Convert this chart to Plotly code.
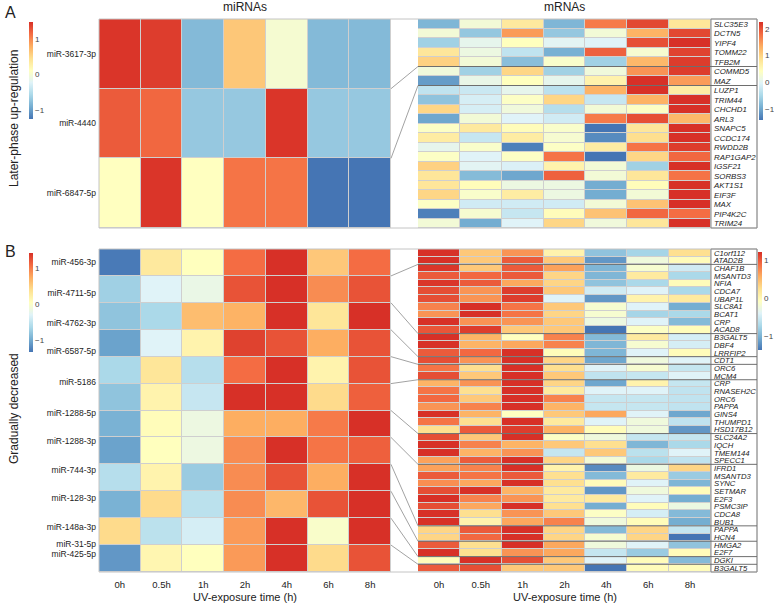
import plotly.graph_objects as go

# ---------------- data ----------------
times = ["0h", "0.5h", "1h", "2h", "4h", "6h", "8h"]

mirna_a = ["miR-3617-3p", "miR-4440", "miR-6847-5p"]
mirna_a_vals = [
    [1.45, 1.41, -0.81, 0.63, 0.01, -0.81, -0.81],
    [1.24, 1.17, -0.70, -0.70, 1.45, -0.70, -0.70],
    [0.11, 1.45, 0.11, 1.10, 1.10, -1.25, -1.25],
]

mrna_a_genes = ["SLC35E3", "DCTN5", "YIPF4", "TOMM22", "TFB2M", "COMMD5", "MAZ",
                "LUZP1", "TRIM44", "CHCHD1", "ARL3", "SNAPC5", "CCDC174", "RWDD2B",
                "RAP1GAP2", "IGSF21", "SORBS3", "AKT1S1", "EIF3F", "MAX", "PIP4K2C", "TRIM24"]
mrna_a_group_sizes = [5, 2, 15]
mrna_a_vals = [
    [-0.86, 0.24, 0.75, -0.86, 1.71, 2.08, 0.79],
    [0.24, -0.68, 1.48, -0.68, 0.24, 1.30, 2.08],
    [-0.58, 0.06, 0.43, 0.01, -0.03, 2.03, 2.26],
    [0.79, 0.15, -0.31, -0.91, 1.89, 0.29, 2.12],
    [1.02, 0.24, -0.77, 0.33, -0.58, 1.25, 2.17],
    [0.20, -0.58, 0.98, -0.58, 0.20, 1.53, 2.17],
    [-1.09, 0.10, 0.43, 0.06, 0.61, 2.26, 1.48],
    [-0.31, -0.22, 0.06, -0.35, 1.30, 2.26, 0.70],
    [-0.72, -0.12, 0.38, 0.98, -0.26, 1.30, 2.26],
    [0.98, -0.12, 0.20, -0.40, 0.24, 0.38, 2.26],
    [-1.00, 0.24, -0.03, -0.17, 1.71, 2.03, 1.25],
    [0.38, 0.75, 0.47, 0.33, -1.41, 0.79, 2.26],
    [0.70, -0.26, 0.70, 0.29, -1.23, 0.89, 2.26],
    [0.06, 0.33, -1.32, 0.38, 0.70, 1.76, 2.17],
    [0.38, -0.03, 0.38, 1.76, -1.41, 0.98, 1.85],
    [1.02, 0.01, -0.08, 0.61, 0.24, -0.58, 2.26],
    [0.79, -0.81, -1.00, 1.89, 0.24, 0.79, 1.76],
    [0.79, 0.47, 0.15, 0.15, -0.95, 0.47, 2.26],
    [0.98, 0.33, 0.70, 0.15, -0.95, 0.24, 2.26],
    [0.38, -0.17, -0.17, -0.17, 0.24, 1.16, 2.26],
    [-1.32, 0.29, -0.26, 0.47, 1.16, 1.85, 1.80],
    [0.24, -0.95, -0.03, 0.98, 0.20, 0.79, 2.26],
]

mirna_b = ["miR-456-3p", "miR-4711-5p", "miR-4762-3p", "miR-6587-5p", "miR-5186",
           "miR-1288-5p", "miR-1288-3p", "miR-744-3p", "miR-128-3p", "miR-148a-3p",
           "miR-31-5p", "miR-425-5p"]
mirna_b_label_rows = [0.0, 1.15, 2.24, 3.29, 4.43, 5.58, 6.63, 7.71, 8.74, 9.84, 10.47, 10.84]
mirna_b_vals = [
    [-1.30, 0.29, 0.05, 1.08, 1.42, 0.56, 1.08],
    [-0.71, -0.30, -0.19, 1.22, 1.42, 0.91, 1.22],
    [-0.81, -0.64, 0.63, 0.70, 1.42, 0.32, 1.42],
    [-1.05, -0.30, 0.18, 1.32, 1.22, 0.73, 1.22],
    [-0.64, 0.32, -0.57, 1.08, 1.42, 0.18, 1.22],
    [-0.81, 0.18, -0.47, 1.42, 1.42, 0.42, 1.15],
    [-0.95, 0.08, -0.16, 0.73, 0.73, 1.01, 1.42],
    [-1.05, 0.05, -0.16, 0.91, 1.42, 1.04, 1.15],
    [-0.57, 0.18, -0.75, 0.91, 1.22, 0.73, 1.42],
    [-0.95, 0.42, -0.54, 0.91, 0.67, 1.22, 1.42],
    [0.42, -0.54, -0.37, 0.84, 1.42, -0.02, 1.42],
    [-1.12, 0.15, 0.05, 0.84, 1.42, 0.42, 1.22],
]

mrna_b_genes = ["C1orf112", "ATAD2B", "CHAF1B", "MSANTD3", "NFIA", "CDCA7", "UBAP1L",
                "SLC8A1", "BCAT1", "CRP", "ACAD8", "B3GALT5", "DBF4", "LRRFIP2", "CDT1",
                "ORC6", "MCM4", "CRP", "RNASEH2C", "ORC6", "PAPPA", "GINS4", "THUMPD1",
                "HSD17B12", "SLC24A2", "IQCH", "TMEM144", "SPECC1", "IFRD1", "MSANTD3",
                "SYNC", "SETMAR", "E2F3", "PSMC3IP", "CDCA8", "BUB1", "PAPPA", "HCN4",
                "HMGA2", "E2F7", "DGKI", "B3GALT5"]
mrna_b_group_sizes = [2, 9, 3, 1, 2, 7, 4, 8, 2, 2, 1, 1]
mrna_b_vals = [
    [1.23, 0.41, 0.71, 0.05, -0.89, -0.76, 0.25],
    [1.23, 0.41, 1.00, 0.41, -1.18, -0.24, -0.04],
    [1.20, 0.41, 1.00, 0.64, -0.99, -0.17, -0.50],
    [1.00, 0.93, 1.00, 0.32, -0.99, 0.15, -0.73],
    [1.20, 1.00, 0.61, 0.32, -0.89, -0.73, -0.04],
    [1.07, 0.71, 1.16, 0.41, -0.50, -0.40, -0.73],
    [1.07, 0.71, 1.16, -0.40, -1.18, 0.05, 0.15],
    [0.80, 1.23, 0.87, 0.41, -0.17, -0.40, -1.05],
    [0.71, 1.23, 0.87, 0.32, -0.17, -0.76, -0.73],
    [1.23, 0.71, 0.71, 0.41, -0.27, -0.40, -0.96],
    [1.03, 1.16, 0.41, 0.41, -1.38, -0.11, -0.04],
    [1.23, 0.54, -0.08, 0.80, -0.96, 0.15, -0.47],
    [1.23, 0.54, 0.61, 0.80, -0.99, -0.17, -0.47],
    [1.00, 0.93, 1.23, -0.04, -0.99, -0.40, -0.04],
    [1.07, 0.71, 1.23, 0.32, -1.09, -0.24, -0.40],
    [0.87, 0.25, 1.23, 0.25, -0.40, -0.17, -0.57],
    [1.07, 0.41, 1.23, 0.41, -0.60, -0.57, -0.40],
    [0.54, 0.71, 1.23, 0.32, -1.09, 0.05, -0.57],
    [0.87, 0.25, 1.23, 0.15, -0.40, -0.40, -0.60],
    [0.93, 0.41, 1.23, 0.80, -0.57, -0.57, -0.60],
    [0.71, 0.80, 1.23, 0.54, -0.57, -0.57, -0.60],
    [1.23, 0.54, -0.08, 0.41, 0.61, -0.40, -1.09],
    [0.87, 0.25, 1.23, 0.15, -0.40, -0.24, -0.60],
    [0.25, 1.00, 1.16, 0.54, -0.04, -0.24, -1.18],
    [1.07, 0.41, 1.23, -0.11, -0.24, -0.57, -0.57],
    [1.23, 0.80, 0.54, 0.41, 0.25, -0.99, -0.73],
    [1.23, 0.54, 0.71, -0.57, 0.41, -0.63, -0.40],
    [0.64, 1.00, 1.23, 0.32, -0.21, -0.73, -0.60],
    [0.64, 0.80, 1.23, 0.05, -1.25, -0.27, 0.32],
    [1.00, 0.87, 1.00, 0.25, -0.96, 0.15, -0.83],
    [0.74, 0.61, 1.23, 0.25, -0.04, -0.40, -0.99],
    [1.07, 1.23, 0.54, 0.15, -1.18, -0.24, -0.04],
    [1.23, 0.80, 0.71, 0.15, 0.15, -0.40, -1.05],
    [1.07, 0.61, 1.23, 0.25, -1.05, -0.04, -0.27],
    [1.23, 0.25, 0.71, 0.41, -0.11, -0.47, -0.96],
    [1.23, 0.05, 0.61, 0.80, -0.24, -0.04, -1.05],
    [0.32, 1.00, 1.23, 0.32, -0.96, 0.32, -0.57],
    [0.32, 0.93, 1.23, 0.32, -0.17, 0.32, -1.38],
    [1.00, 0.25, 1.23, 0.61, -0.24, -0.40, -0.89],
    [1.23, 0.25, 0.71, 0.61, -0.57, -0.83, -0.04],
    [-0.04, 1.23, 1.07, 0.41, -0.40, -0.04, -0.96],
    [1.00, 1.07, 0.41, 0.41, -1.38, -0.04, -0.04],
]

# colour-bar ranges read from the legends
range_mirna_a = (-1.25, 1.48)
range_mrna_a = (-1.41, 2.26)
range_mirna_b = (-1.33, 1.42)
range_mrna_b = (-1.38, 1.23)

# ---------------- layout helpers ----------------
W, H = 774, 606
FONT = "Liberation Sans, Arial, sans-serif"
TXT = "#222222"


def fx(px):
    return px / W


def fy(py):
    return 1 - py / H


LEFT_X = (99, 391)
RIGHT_X = (418, 711)
BOX_R = 757
A_Y = (19, 228)
B_Y = (249, 572)

colorscale = [
    [0.0, "#4575b4"], [0.125, "#74add1"], [0.25, "#abd9e9"], [0.375, "#e0f3f8"],
    [0.5, "#ffffbf"], [0.625, "#fee090"], [0.75, "#fdae61"], [0.875, "#f46d43"],
    [1.0, "#d73027"],
]


def cbar(x_px, top_px, bot_px, ticks):
    return dict(
        thickness=4, thicknessmode="pixels",
        len=bot_px - top_px, lenmode="pixels",
        x=fx(x_px), xanchor="left", y=fy(top_px), yanchor="top",
        xpad=0, ypad=0, outlinewidth=0, ticks="",
        tickvals=ticks, tickfont=dict(size=8, color="#444", family=FONT),
    )


def heat(z, rng, xa, ya, cb):
    return go.Heatmap(
        z=z, x=times, y=list(range(len(z))), xaxis=xa, yaxis=ya,
        colorscale=colorscale, zmin=rng[0], zmax=rng[1], xgap=1, ygap=1,
        colorbar=cb, hoverinfo="skip",
    )


fig = go.Figure()
fig.add_trace(heat(mirna_a_vals, range_mirna_a, "x", "y", cbar(29, 22, 119, [-1, 0, 1])))
fig.add_trace(heat(mrna_a_vals, range_mrna_a, "x2", "y2", cbar(759, 22, 120, [-1, 0, 1, 2])))
fig.add_trace(heat(mirna_b_vals, range_mirna_b, "x3", "y3", cbar(29, 253, 352, [-1, 0, 1])))
fig.add_trace(heat(mrna_b_vals, range_mrna_b, "x4", "y4", cbar(758, 252, 350, [-1, 0, 1])))

ax_common = dict(showgrid=False, zeroline=False, showline=False, ticks="", automargin=False)


def xax(dom, anchor, show):
    return dict(domain=[fx(dom[0]), fx(dom[1])], anchor=anchor, showticklabels=show,
                tickfont=dict(size=9.5, color=TXT, family=FONT), ticklabelstandoff=5,
                **ax_common)


def yax(dom, anchor, n, vals, text, side, size, style="normal"):
    return dict(domain=[fy(dom[1]), fy(dom[0])], anchor=anchor, side=side,
                range=[n - 0.5, -0.5], tickvals=vals, ticktext=text,
                tickfont=dict(size=size, color=TXT, family=FONT, style=style),
                ticklabelstandoff=2, **ax_common)


fig.update_layout(
    width=W, height=H, margin=dict(l=0, r=0, t=0, b=0),
    paper_bgcolor="white", plot_bgcolor="#cfcfcf", template="none",
    font=dict(family=FONT, color=TXT),
    xaxis=xax(LEFT_X, "y", False),
    yaxis=yax(A_Y, "x", len(mirna_a), list(range(len(mirna_a))), mirna_a, "left", 8.5),
    xaxis2=xax(RIGHT_X, "y2", False),
    yaxis2=yax(A_Y, "x2", len(mrna_a_genes), list(range(len(mrna_a_genes))), mrna_a_genes,
               "right", 7.9, "italic"),
    xaxis3=xax(LEFT_X, "y3", True),
    yaxis3=yax(B_Y, "x3", len(mirna_b), mirna_b_label_rows, mirna_b, "left", 8.5),
    xaxis4=xax(RIGHT_X, "y4", True),
    yaxis4=yax(B_Y, "x4", len(mrna_b_genes), list(range(len(mrna_b_genes))), mrna_b_genes,
               "right", 7.7, "italic"),
)

shapes = []


def panel_shapes(ydom, n_mi, sizes):
    top, bot = ydom
    n_m = sum(sizes)
    shapes.append(dict(type="rect", xref="paper", yref="paper", x0=fx(LEFT_X[0]), x1=fx(BOX_R),
                       y0=fy(bot), y1=fy(top), line=dict(color="#c4c4c4", width=1)))
    shapes.append(dict(type="rect", xref="paper", yref="paper", x0=fx(RIGHT_X[1]), x1=fx(BOX_R),
                       y0=fy(bot), y1=fy(top), line=dict(color="#8a8a8a", width=1)))
    cum = 0
    for k, s in enumerate(sizes[:-1]):
        cum += s
        ym = top + cum * (bot - top) / n_m
        yi = top + (k + 1) * (bot - top) / n_mi
        shapes.append(dict(type="line", xref="paper", yref="paper", x0=fx(RIGHT_X[0]), x1=fx(BOX_R),
                           y0=fy(ym), y1=fy(ym), line=dict(color="#6e6e6e", width=1)))
        shapes.append(dict(type="line", xref="paper", yref="paper", x0=fx(LEFT_X[1]), x1=fx(RIGHT_X[0]),
                           y0=fy(yi), y1=fy(ym), line=dict(color="#8a8a8a", width=0.8)))


panel_shapes(A_Y, len(mirna_a), mrna_a_group_sizes)
panel_shapes(B_Y, len(mirna_b), mrna_b_group_sizes)

ann = []


def text(t, x, y, size, xanchor="center", yanchor="middle", angle=0):
    ann.append(dict(text=t, x=fx(x), y=fy(y), xref="paper", yref="paper", showarrow=False,
                    xanchor=xanchor, yanchor=yanchor, textangle=angle,
                    font=dict(size=size, color=TXT, family=FONT)))


text("A", 3, 12, 16, xanchor="left")
text("B", 3, 251, 16, xanchor="left")
text("miRNAs", sum(LEFT_X) / 2, 7, 12)
text("mRNAs", sum(RIGHT_X) / 2, 7, 12)
text("Later-phase up-regulation", 14, 119, 12, angle=-90)
text("Gradually decreased", 14, 409, 12, angle=-90)
text("UV-exposure time (h)", sum(LEFT_X) / 2, 597, 11)
text("UV-exposure time (h)", sum(RIGHT_X) / 2, 597, 11)

fig.update_layout(shapes=shapes, annotations=ann)

fig.write_html("out.html", config={"displayModeBar": False},
               post_script="document.body.style.margin='0';")
